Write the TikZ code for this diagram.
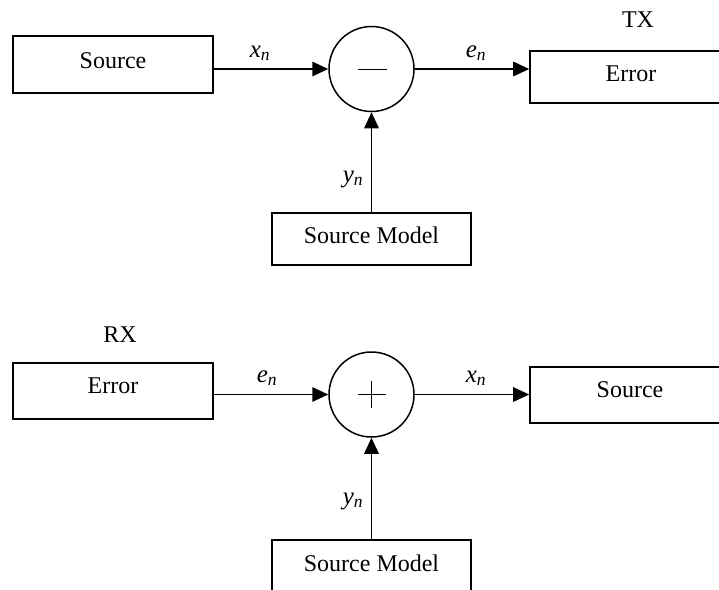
\documentclass[tikz,border=0pt]{standalone}
\usepackage{fontspec}
\setmainfont{Liberation Serif}
\usetikzlibrary{arrows.meta}
\begin{document}
\begin{tikzpicture}[x=1pt,y=-1pt,
  box/.style={draw,line width=1.6pt,inner sep=0pt},
  sumnode/.style={draw,circle,line width=1.5pt,minimum size=85pt,inner sep=0pt},
  lbl/.style={anchor=base,inner sep=0pt,font=\fontsize{24}{28}\selectfont},
  sig/.style={anchor=base,inner sep=0pt,font=\fontsize{25}{28}\selectfont\itshape},
  conn/.style={line width=1.5pt,-{Triangle[length=16pt,width=14.5pt]}},
  sign/.style={line width=1.4pt}]
\useasboundingbox (0,0) rectangle (719,589);
% ---------- TX ----------
\node[box,minimum width=200pt,minimum height=57pt] (srcA) at (113,64.5) {};
\node[lbl] (srcAt) at (113,68) {Source};
\node[sumnode] (sumA) at (371.5,69) {};
\coordinate (mA1) at (358,69.5);
\coordinate (mA2) at (387,69.5);
\draw[sign] (mA1) -- (mA2);
\node[box,minimum width=210pt,minimum height=52pt] (errA) at (635,77) {};
\node[lbl] (errAt) at (631,81) {Error};
\node[lbl] (tx) at (638,27) {TX};
\node[box,minimum width=199pt,minimum height=52pt] (smA) at (371.5,239) {};
\node[lbl] (smAt) at (371.5,243) {Source Model};
\node[sig] (xA) at (260,57) {x\textsubscript{n}};
\node[sig] (eA) at (476,57) {e\textsubscript{n}};
\node[sig] (yA) at (353,182) {y\textsubscript{n}};
\draw[conn] (srcA.east |- sumA.west) -- (sumA.west);
\draw[conn] (sumA.east) -- (sumA.east -| errA.west);
\draw[conn] (smA.north) -- (sumA.south);
% ---------- RX ----------
\node[lbl] (rx) at (120,342) {RX};
\node[box,minimum width=200pt,minimum height=56pt] (errB) at (113,391) {};
\node[lbl] (errBt) at (113,393) {Error};
\node[sumnode] (sumB) at (371.5,394.5) {};
\coordinate (pB1) at (358,394.5);
\coordinate (pB2) at (386,394.5);
\coordinate (pB3) at (371.5,381);
\coordinate (pB4) at (371.5,408);
\draw[sign] (pB1) -- (pB2);
\draw[sign] (pB3) -- (pB4);
\node[box,minimum width=210pt,minimum height=56pt] (srcB) at (635,395) {};
\node[lbl] (srcBt) at (630,397) {Source};
\node[box,minimum width=199pt,minimum height=56pt] (smB) at (371.5,568) {};
\node[lbl] (smBt) at (371.5,571) {Source Model};
\node[sig] (eB) at (267,382) {e\textsubscript{n}};
\node[sig] (xB) at (476,382) {x\textsubscript{n}};
\node[sig] (yB) at (353,504) {y\textsubscript{n}};
\draw[conn] (errB.east |- sumB.west) -- (sumB.west);
\draw[conn] (sumB.east) -- (sumB.east -| srcB.west);
\draw[conn] (smB.north) -- (sumB.south);
\end{tikzpicture}
\end{document}
